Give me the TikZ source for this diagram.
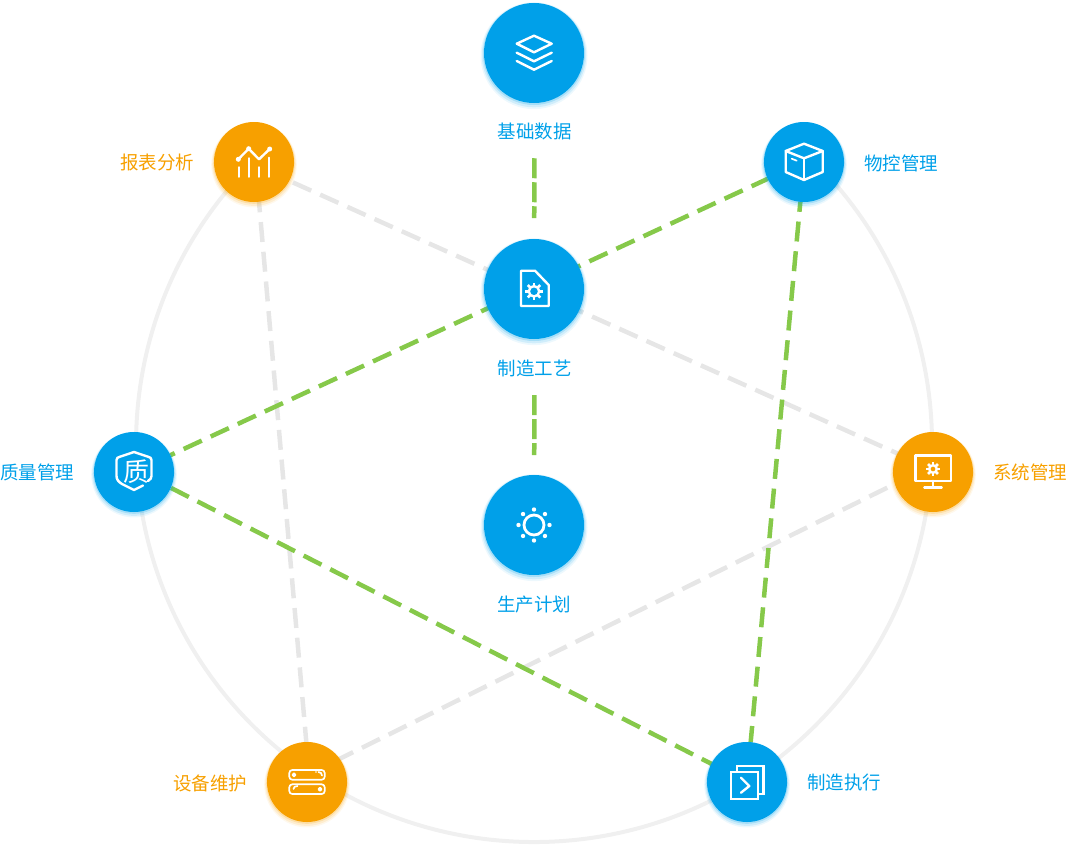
\documentclass[tikz,border=0pt]{standalone}
\usepackage{fontspec}
\setmainfont{Noto Sans CJK SC}
\usetikzlibrary{shadows,backgrounds}
\definecolor{skyblue}{HTML}{00A0E9}
\definecolor{amber}{HTML}{F7A000}
\definecolor{leaf}{HTML}{86C94A}
\definecolor{ashline}{HTML}{E6E6E6}
\definecolor{ringline}{HTML}{F0F0F0}
\tikzset{
  disc/.style 2 args={circle,minimum size=#1,inner sep=0pt,outer sep=0pt,fill=#2,
    general shadow={shadow scale=1.07,shadow yshift=-2.5pt,fill=#2,opacity=.07},
    general shadow={shadow scale=1.045,shadow yshift=-2pt,fill=#2,opacity=.12},
    general shadow={shadow scale=1.02,shadow yshift=-1pt,fill=#2,opacity=.2}},
  bluetext/.style={text=skyblue,font=\fontsize{18.5}{18.5}\selectfont,inner sep=0pt},
  ambertext/.style={text=amber,font=\fontsize{18.5}{18.5}\selectfont,inner sep=0pt},
  greenlink/.style={draw=leaf,line width=4.5pt,dash pattern=on 20pt off 9.8pt},
  greylink/.style={draw=ashline,line width=4.5pt,dash pattern=on 20pt off 9.8pt},
  stublink/.style={draw=leaf,line width=4.5pt,dash pattern=on 20pt off 4pt},
  icon/.style={draw=white,line width=2.4pt,line join=round,line cap=round},
  iconthin/.style={draw=white,line width=1.7pt,line join=round,line cap=round}
}
\newcommand{\gearicon}[3]{% centre, ring radius, tooth end
  \draw[icon] #1 circle[radius=#2];
  \foreach \a in {0,45,...,315}
    \draw[icon,line cap=butt,line width=2.6pt,shift={#1}] (\a:#2) -- (\a:#3);
}
\begin{document}
\begin{tikzpicture}[x=1pt,y=-1pt]
\useasboundingbox (0,0) rectangle (1067,846);

\node[disc={100pt}{skyblue}] (base) at (534,53) {};
\node[disc={100pt}{skyblue}] (craft) at (534,289) {};
\node[disc={100pt}{skyblue}] (plan) at (534,525) {};
\node[disc={80pt}{skyblue}] (material) at (804,162) {};
\node[disc={80pt}{skyblue}] (quality) at (134,472) {};
\node[disc={80pt}{skyblue}] (exec) at (747,782) {};
\node[disc={80pt}{amber}] (report) at (254,162) {};
\node[disc={80pt}{amber}] (system) at (933,472) {};
\node[disc={80pt}{amber}] (device) at (307,782) {};

\node[bluetext] (baselbl) at (534.5,131.5) {基础数据};
\node[bluetext] (craftlbl) at (534.5,368.5) {制造工艺};
\node[bluetext] (planlbl) at (534,604.5) {生产计划};
\node[bluetext] (materiallbl) at (901,163.5) {物控管理};
\node[bluetext] (qualitylbl) at (37,472.5) {质量管理};
\node[bluetext] (execlbl) at (844,782.5) {制造执行};
\node[ambertext] (reportlbl) at (157,162.5) {报表分析};
\node[ambertext] (systemlbl) at (1030,472.5) {系统管理};
\node[ambertext] (devicelbl) at (210,783.5) {设备维护};

% ring, open at the top, and the links under the discs
\begin{scope}[on background layer]
\draw[ringline,line width=4pt] (252.6,162.6) arc[start angle=225,end angle=-45,radius=398];
\draw[greylink,dash phase=16.9pt] ([shift={(0,3)}]report.center) -- ([shift={(0,-2.6)}]system.center);
\draw[greylink,dash phase=29.1pt] ([shift={(1.5,0)}]report.center) -- ([shift={(2.8,0)}]device.center);
\draw[greylink,dash phase=28.1pt] ([shift={(0,-7)}]device.center) -- ([shift={(0,-7)}]system.center);
\draw[greenlink,dash phase=15.1pt] (quality) -- (material);
\draw[greenlink,dash phase=10pt] (material) -- (exec);
\draw[greenlink,dash phase=18.1pt] ([shift={(0,-3)}]quality.center) -- (exec.center);
\draw[stublink,shorten <=18pt,shorten >=21pt] (baselbl) -- (craft);
\draw[stublink,shorten <=18pt,shorten >=20pt] (craftlbl) -- (plan);
\end{scope}

% layers
\begin{scope}[shift={(base.center)}]
\draw[icon] (-17.3,-9.3) -- (0,-17.3) -- (17.7,-9.3) -- (0,-0.7) -- cycle;
\draw[icon] (-17.3,-0.3) -- (0,8.3) -- (17.7,-0.3);
\draw[icon] (-17.3,8) -- (0,16.7) -- (17.7,8);
\end{scope}

% file with gear
\begin{scope}[shift={(craft.center)}]
\draw[icon] (-13,-18.3) -- (1,-18.3) -- (14.7,-4) -- (14.7,17) -- (-13,17) -- cycle;
\gearicon{(0,2.3)}{5.2}{8.8}
\end{scope}

% sun
\begin{scope}[shift={(plan.center)}]
\draw[white,line width=2.8pt] (0,0) circle[radius=10];
\foreach \a in {0,45,...,315}
  \fill[white] (\a:15.5) circle[radius=2.2];
\end{scope}

% chart
\begin{scope}[shift={(report.center)}]
\draw[icon] (-15.7,-2.7) -- (-5.3,-13.3) -- (5,-2.7) -- (15.7,-13);
\foreach \p in {(-15.7,-2.7),(-5.3,-13.3),(15.7,-13)}
  \fill[white] \p circle[radius=2.5];
\draw[icon] (-15,5.3) -- (-15,14.7);
\draw[icon] (-5.3,-3.7) -- (-5.3,14.7);
\draw[icon] (5,5.3) -- (5,14.7);
\draw[icon] (15,-4.3) -- (15,14.7);
\end{scope}

% box
\begin{scope}[shift={(material.center)}]
\draw[icon] (0,-18.3) -- (18.7,-11) -- (18.7,10) -- (0,18) -- (-18.3,10) -- (-18.3,-11) -- cycle;
\draw[icon] (-18.3,-11) -- (0,-3.7) -- (18.7,-11);
\draw[icon] (0,-3.7) -- (0,18);
\draw[iconthin] (-12.3,-3.3) -- (-7.3,-1.3);
\end{scope}

% shield
\begin{scope}[shift={(quality.center)}]
\draw[icon] (14,9) .. controls (16.5,7.5) and (17.5,6) .. (17.5,4) -- (17.5,-12) .. controls (17.5,-14) and (16,-14.8) .. (14,-15.3) -- (0,-20) -- (-14,-15.3) .. controls (-16,-14.8) and (-17.5,-14) .. (-17.5,-12) -- (-17.5,4) .. controls (-17.5,8) and (-15,10) .. (-12,12) -- (0,18) -- (9,13.5);
\node[text=white,font=\fontsize{26}{26}\selectfont,inner sep=0pt] (qualityglyph) at (2.7,-0.7) {质};
\end{scope}

% monitor with gear
\begin{scope}[shift={(system.center)}]
\draw[icon] (-17.7,-16.7) rectangle (17.7,8.7);
\draw[icon] (0,8.7) -- (0,15.3);
\draw[icon] (-8.7,15.3) -- (8.7,15.3);
\gearicon{(0,-3)}{3.8}{7}
\end{scope}

% server
\begin{scope}[shift={(device.center)}]
\draw[iconthin,rounded corners=3pt] (-17.7,-12) rectangle (17.7,-2.3);
\draw[iconthin,rounded corners=3pt] (-17.7,2.3) rectangle (17.7,12);
\draw[iconthin] (-13,-7.2) circle[radius=1.6];
\draw[iconthin] (13,7.2) circle[radius=1.6];
\draw[iconthin] (11.5,-10) .. controls (13.5,-10) and (15,-8.5) .. (15,-6.5);
\fill[white] (9,-10) circle[radius=.8];
\draw[iconthin] (-13.5,7) .. controls (-13.5,5) and (-12,4) .. (-9.5,4);
\end{scope}

% pages with chevron
\begin{scope}[shift={(exec.center)}]
\draw[icon,line cap=butt,line join=miter] (-16,-10.3) rectangle (10.7,17);
\draw[icon,line cap=butt,line join=miter] (-10.3,-10.3) -- (-10.3,-16.3) -- (16.3,-16.3) -- (16.3,11.7) -- (10.7,11.7);
\draw[icon] (-6,-4.3) -- (2.3,4) -- (-6,10.7);
\end{scope}
\end{tikzpicture}
\end{document}
